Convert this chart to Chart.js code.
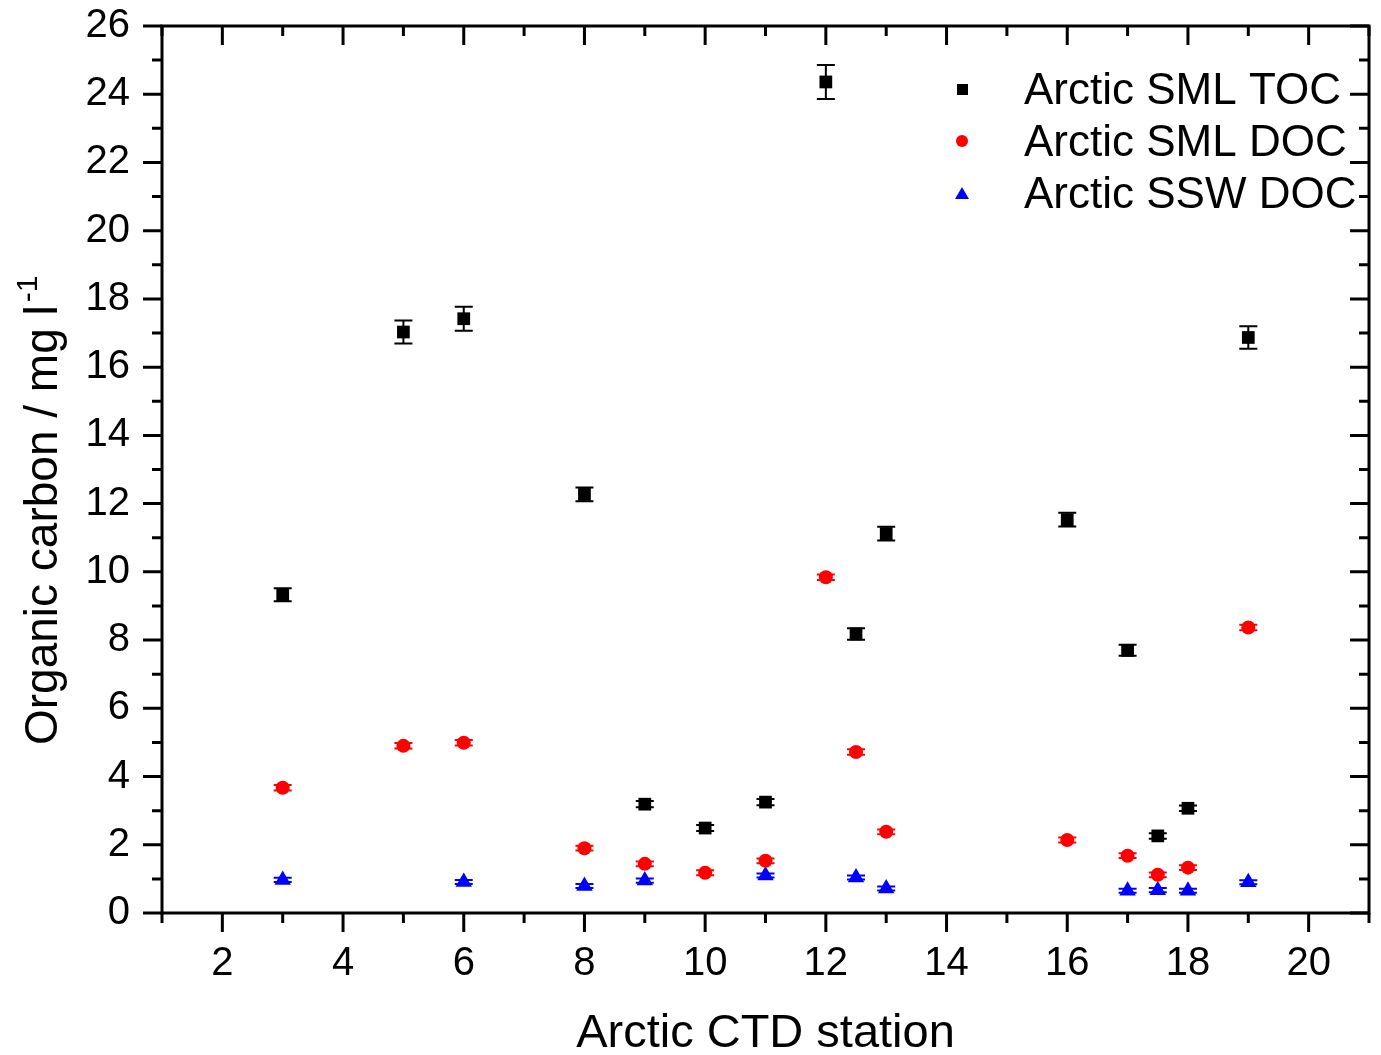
<!DOCTYPE html>
<html>
<head>
<meta charset="utf-8">
<script src="https://cdn.jsdelivr.net/npm/chart.js@4.4.0/dist/chart.umd.min.js"></script>
<style>
  body { margin: 0; background: #fff; }
  #wrap { width: 1381px; height: 1055px; }
</style>
</head>
<body>
<div id="wrap"><canvas id="myChart" width="1381" height="1055"></canvas></div>
<script>
// station numbers and values
const tocStation = [3, 5, 6, 8, 9, 10, 11, 12, 12.5, 13, 16, 17, 17.5, 18, 19];
const tocValue   = [9.33, 17.03, 17.42, 12.27, 3.19, 2.49, 3.25, 24.36, 8.18, 11.12, 11.53, 7.70, 2.26, 3.07, 16.87];
const tocError   = [0.19, 0.34, 0.35, 0.20, 0.09, 0.09, 0.09, 0.50, 0.17, 0.20, 0.20, 0.16, 0.08, 0.08, 0.33];

const docStation = [3, 5, 6, 8, 9, 10, 11, 12, 12.5, 13, 16, 17, 17.5, 18, 19];
const docValue   = [3.67, 4.90, 4.99, 1.90, 1.44, 1.18, 1.53, 9.84, 4.72, 2.38, 2.14, 1.68, 1.12, 1.33, 8.37];
const docError   = [0.08, 0.08, 0.08, 0.07, 0.07, 0.07, 0.07, 0.08, 0.08, 0.07, 0.07, 0.07, 0.07, 0.07, 0.08];

const sswStation = [3, 6, 8, 9, 11, 12.5, 13, 17, 17.5, 18, 19];
const sswValue   = [0.97, 0.91, 0.79, 0.95, 1.10, 1.04, 0.72, 0.65, 0.67, 0.65, 0.90];
const sswError   = [0.06, 0.06, 0.06, 0.06, 0.06, 0.06, 0.06, 0.06, 0.06, 0.06, 0.06];

const seriesNames = ['Arctic SML TOC', 'Arctic SML DOC', 'Arctic SSW DOC'];
const seriesColors = ['#000000', '#ff0000', '#0000ff'];

const xMajorTicks = [2, 4, 6, 8, 10, 12, 14, 16, 18, 20];
const xMinorTicks = [1, 3, 5, 7, 9, 11, 13, 15, 17, 19, 21];
const yMajorTicks = [0, 2, 4, 6, 8, 10, 12, 14, 16, 18, 20, 22, 24, 26];
const yMinorTicks = [1, 3, 5, 7, 9, 11, 13, 15, 17, 19, 21, 23, 25];

const xTitle = 'Arctic CTD station';
const yTitle = 'Organic carbon / mg l';
const yTitleSup = '-1';

const FONT = "'Liberation Sans', Arial, sans-serif";

function toPoints(xs, ys) {
    return xs.map((x, i) => ({ x: x, y: ys[i] }));
}

const errors = [tocError, docError, sswError];

// error bars drawn through the chart's own scales
const errorBars = {
    id: 'errorBars',
    afterDatasetsDraw(chart) {
        const ctx = chart.ctx;
        const xs = chart.scales.x, ys = chart.scales.y;
        chart.data.datasets.forEach((ds, d) => {
            ctx.save();
            ctx.strokeStyle = seriesColors[d];
            ctx.lineWidth = 2;
            ds.data.forEach((p, i) => {
                const e = errors[d][i];
                const px = xs.getPixelForValue(p.x);
                const top = ys.getPixelForValue(p.y + e);
                const bot = ys.getPixelForValue(p.y - e);
                ctx.beginPath();
                ctx.moveTo(px, top); ctx.lineTo(px, bot);
                ctx.moveTo(px - 9, top); ctx.lineTo(px + 9, top);
                ctx.moveTo(px - 9, bot); ctx.lineTo(px + 9, bot);
                ctx.stroke();
            });
            ctx.restore();
        });
    }
};

// box frame with Origin-style ticks, titles and legend
const frame = {
    id: 'frame',
    afterDraw(chart) {
        const ctx = chart.ctx;
        const a = chart.chartArea;
        const xs = chart.scales.x, ys = chart.scales.y;
        ctx.save();
        ctx.strokeStyle = '#000';
        ctx.lineWidth = 3;
        ctx.lineCap = 'butt';
        ctx.beginPath();
        ctx.rect(a.left, a.top, a.right - a.left, a.bottom - a.top);
        ctx.stroke();

        ctx.beginPath();
        xMajorTicks.forEach(v => {
            const px = xs.getPixelForValue(v);
            ctx.moveTo(px, a.bottom); ctx.lineTo(px, a.bottom + 19);
            ctx.moveTo(px, a.top); ctx.lineTo(px, a.top + 19);
        });
        xMinorTicks.forEach(v => {
            const px = xs.getPixelForValue(v);
            ctx.moveTo(px, a.bottom); ctx.lineTo(px, a.bottom + 10);
            ctx.moveTo(px, a.top); ctx.lineTo(px, a.top + 10);
        });
        yMajorTicks.forEach(v => {
            const py = ys.getPixelForValue(v);
            ctx.moveTo(a.left, py); ctx.lineTo(a.left - 19, py);
            ctx.moveTo(a.right, py); ctx.lineTo(a.right - 19, py);
        });
        yMinorTicks.forEach(v => {
            const py = ys.getPixelForValue(v);
            ctx.moveTo(a.left, py); ctx.lineTo(a.left - 10, py);
            ctx.moveTo(a.right, py); ctx.lineTo(a.right - 10, py);
        });
        ctx.stroke();

        // axis titles
        ctx.fillStyle = '#000';
        ctx.font = '47px ' + FONT;
        ctx.textAlign = 'center';
        ctx.textBaseline = 'alphabetic';
        ctx.fillText(xTitle, (a.left + a.right) / 2, 1047);

        ctx.save();
        ctx.translate(57, 745);
        ctx.rotate(-Math.PI / 2);
        ctx.textAlign = 'left';
        ctx.font = '46px ' + FONT;
        ctx.fillText(yTitle, 0, 0);
        const w = ctx.measureText(yTitle).width;
        ctx.font = '30px ' + FONT;
        ctx.fillText(yTitleSup, w + 3, -20);
        ctx.restore();

        // legend
        ctx.font = '44px ' + FONT;
        ctx.textAlign = 'left';
        seriesNames.forEach((name, i) => {
            const cy = 89 + i * 52;
            ctx.fillStyle = seriesColors[i];
            ctx.beginPath();
            if (i === 0) {
                ctx.rect(957, cy - 5, 11, 11);
            } else if (i === 1) {
                ctx.arc(962, cy, 6, 0, Math.PI * 2);
            } else {
                ctx.moveTo(962, cy - 6);
                ctx.lineTo(969, cy + 6);
                ctx.lineTo(955, cy + 6);
                ctx.closePath();
            }
            ctx.fill();
            ctx.fillStyle = '#000';
            ctx.fillText(name, 1024, cy + 15);
        });
        ctx.restore();
    }
};

const ctx = document.getElementById('myChart').getContext('2d');
const myChart = new Chart(ctx, {
    type: 'scatter',
    data: {
        datasets: [
            {
                label: seriesNames[0],
                data: toPoints(tocStation, tocValue),
                pointStyle: 'rect',
                pointRadius: 9,
                backgroundColor: seriesColors[0],
                borderColor: seriesColors[0],
                borderWidth: 0,
            },
            {
                label: seriesNames[1],
                data: toPoints(docStation, docValue),
                pointStyle: 'circle',
                pointRadius: 7,
                backgroundColor: seriesColors[1],
                borderColor: seriesColors[1],
                borderWidth: 0,
            },
            {
                label: seriesNames[2],
                data: toPoints(sswStation, sswValue),
                pointStyle: 'triangle',
                pointRadius: 9.5,
                backgroundColor: seriesColors[2],
                borderColor: seriesColors[2],
                borderWidth: 0,
            },
        ],
    },
    options: {
        responsive: false,
        animation: false,
        layout: { padding: { top: 26, right: 12, left: 0, bottom: 0 } },
        plugins: {
            legend: { display: false },
            tooltip: { enabled: false },
        },
        scales: {
            x: {
                type: 'linear',
                min: 1,
                max: 21,
                grid: { display: false },
                border: { display: false },
                afterBuildTicks: (scale) => { scale.ticks = xMajorTicks.map(v => ({ value: v })); },
                afterFit: (scale) => {
                    scale.height = 142;
                    scale.paddingLeft = 0;
                    scale.paddingRight = 0;
                },
                ticks: {
                    color: '#000',
                    padding: 19,
                    maxRotation: 0,
                    font: { family: FONT, size: 40 },
                },
            },
            y: {
                type: 'linear',
                min: 0,
                max: 26,
                grid: { display: false },
                border: { display: false },
                afterBuildTicks: (scale) => { scale.ticks = yMajorTicks.map(v => ({ value: v })); },
                afterFit: (scale) => {
                    scale.width = 162;
                    scale.paddingTop = 0;
                    scale.paddingBottom = 0;
                },
                ticks: {
                    color: '#000',
                    padding: 24,
                    font: { family: FONT, size: 40 },
                },
            },
        },
    },
    plugins: [errorBars, frame],
});
</script>
</body>
</html>
